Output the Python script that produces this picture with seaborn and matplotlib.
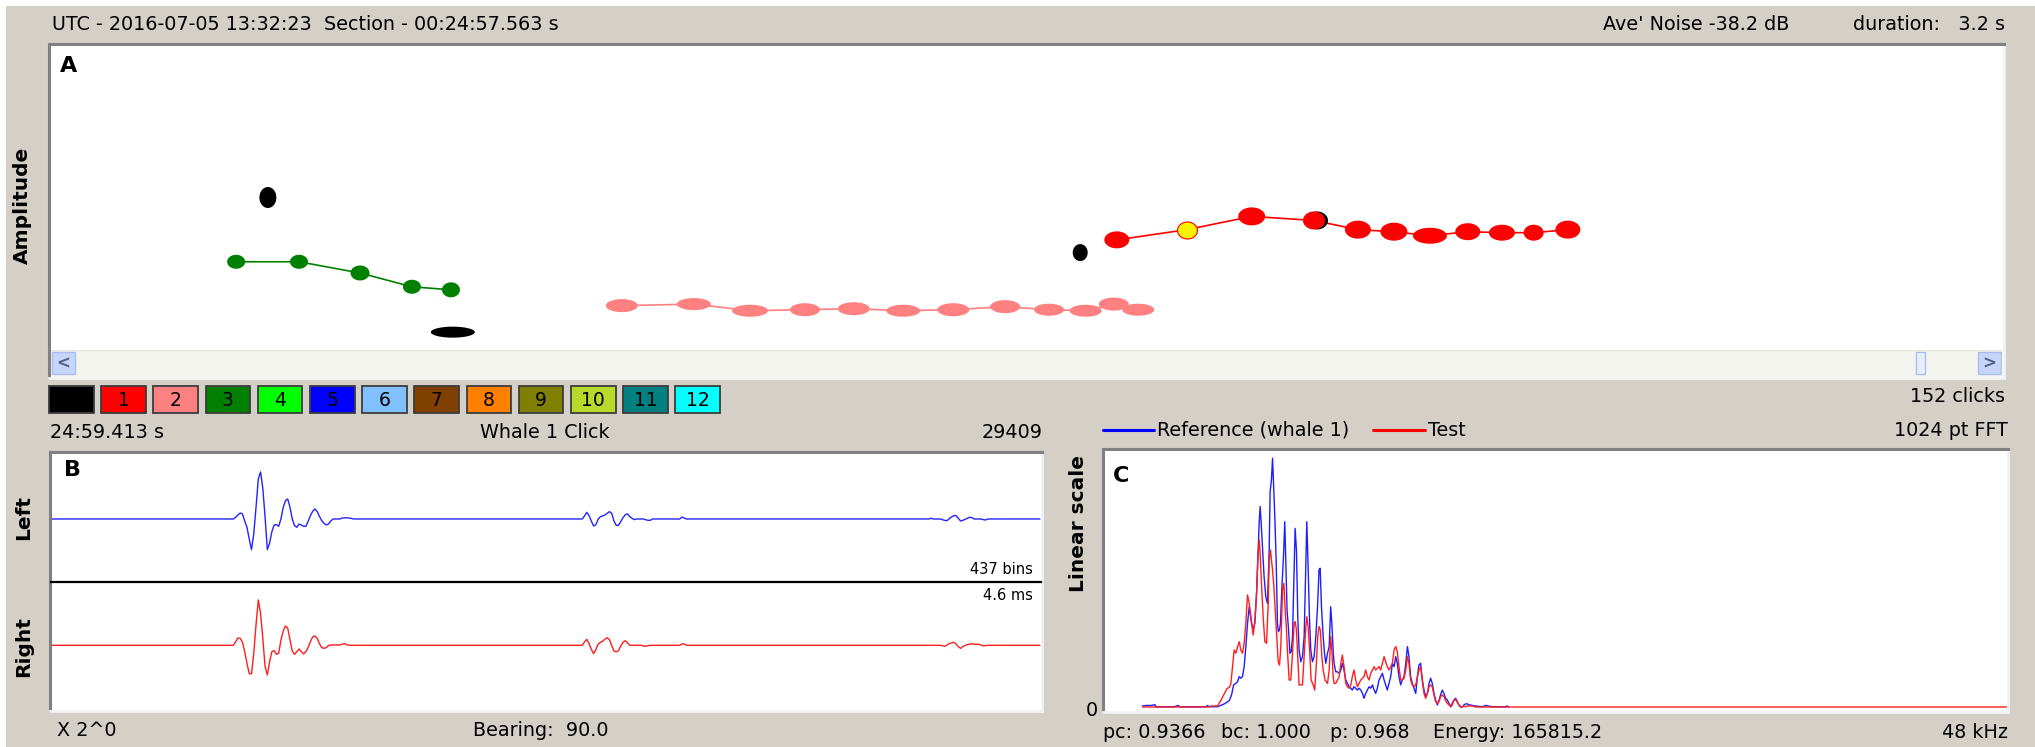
import numpy as np
import matplotlib
matplotlib.use("Agg")
import matplotlib.pyplot as plt
from matplotlib.path import Path
from matplotlib.patches import Rectangle
from matplotlib.lines import Line2D
import seaborn as sns

sns.set_style("white")
plt.rcParams["font.family"] = ["DejaVu Sans"]
plt.rcParams["text.color"] = "black"

W, H = 2035, 747
BG = "#D4D0C8"

# ---------------- Panel A: click amplitude against time ----------------
duration_s = 3.2
amp_limits = (110.0, 170.0)

cls3_time = [0.305, 0.408, 0.508, 0.593, 0.657]
cls3_amp = [127.3, 127.3, 125.1, 122.4, 121.8]

cls2_time = [0.937, 1.055, 1.147, 1.237, 1.317, 1.398, 1.480, 1.565, 1.637, 1.697, 1.743, 1.783]
cls2_amp = [118.7, 119.0, 117.7, 117.9, 118.1, 117.7, 117.9, 118.5, 117.9, 117.7, 119.0, 117.9]

cls1_time = [1.748, 1.863, 1.969, 2.071, 2.143, 2.202, 2.261, 2.323, 2.379, 2.431, 2.487]
cls1_amp = [131.6, 133.6, 136.2, 135.4, 133.6, 133.2, 132.4, 133.2, 133.0, 133.0, 133.6]
selected_click = 1

uncl_time = [0.357, 0.660, 1.688, 2.076]
uncl_amp = [139.9, 113.5, 129.1, 135.4]

# marker shapes (pixel width, height) per click
cls3_w, cls3_h = [18, 18, 19, 18, 18], [14, 14, 15, 14, 15]
cls2_w = [32, 34, 36, 30, 32, 34, 32, 30, 30, 32, 30, 32]
cls2_h = [13, 12, 12, 13, 13, 12, 13, 13, 12, 12, 13, 12]
cls1_w = [25, 20, 27, 22, 26, 27, 34, 25, 26, 20, 25]
cls1_h = [17, 17, 18, 18, 18, 18, 16, 17, 16, 16, 18]
uncl_w, uncl_h = [17, 44, 15, 22], [21, 11, 17, 18]

# ---------------- Panel B: click waveform (437 bins) ----------------
n_bins = 437
left_bursts = {
    80: [0, 0.026, 0.062, 0.093, 0.078, -0.031, -0.129, -0.31, -0.475, -0.233,
         0.181, 0.62, 0.73, 0.475, 0.026, -0.475, -0.372, -0.196, -0.093, -0.088,
         -0.114, 0, 0.181, 0.284, 0.31, 0.181, 0, -0.103, -0.129, -0.078,
         -0.093, -0.114, -0.114, -0.036, 0.052, 0.119, 0.155, 0.114, 0.041, -0.026,
         -0.067, -0.093, -0.078, -0.031, 0, 0, 0, 0, 0.015, 0.015, 0.02, 0.015, 0.01, 0],
    234: [0, 0.047, 0.103, 0.052, -0.031, -0.109, -0.088, -0.005, 0.036, 0.047,
          0.062, 0.088, 0.114, 0.088, -0.031, -0.098, -0.098, -0.041, 0.021, 0.067,
          0.078, 0.036, 0.01, -0.01, 0, 0, 0, 0, -0.01, -0.021, -0.021, 0],
    277: [0, 0.03, 0.015, 0],
    388: [0.01, 0, 0, 0, 0, -0.01, -0.021, -0.026, 0.005, 0.031, 0.052, 0.052, 0.01,
          -0.031, -0.021, -0.005, 0.01, 0.026, 0.021, 0, 0, 0, 0, -0.01, -0.016, 0],
}
right_bursts = {
    80: [0, 0.057, 0.114, 0.109, 0.047, -0.098, -0.279, -0.439, -0.444, -0.124,
         0.315, 0.703, 0.496, 0.109, -0.331, -0.46, -0.253, -0.098, -0.083, -0.14,
         -0.124, 0.083, 0.222, 0.3, 0.264, 0.083, -0.088, -0.14, -0.098, -0.057,
         -0.098, -0.134, -0.098, -0.036, 0.057, 0.129, 0.145, 0.109, 0.026, -0.036,
         -0.047, -0.036, -0.005, 0.005, 0.005, 0.005, 0.005, 0.005, 0.015, 0.026, 0.01, 0],
    234: [0, 0.052, 0.093, 0.026, -0.062, -0.129, -0.067, 0.016, 0.047, 0.062,
          0.093, 0.119, 0.088, -0.005, -0.088, -0.103, -0.083, -0.01, 0.047, 0.072,
          0.036, 0, 0, 0, 0, 0, 0, -0.01, -0.016, -0.005, 0, 0],
    277: [0, 0.021, 0.021, 0],
    393: [-0.005, -0.016, 0.005, 0.026, 0.036, 0.047, 0.021, -0.021, -0.047, -0.021,
          0, 0.01, 0.016, 0.026, 0.016, 0.016, 0.016, 0.005, -0.01, -0.005, 0],
}

# ---------------- Panel C: power spectra (linear scale, 0-48 kHz) ----------------
ref_freq = [2.05, 2.23, 2.50, 2.71, 2.76, 3.74, 3.95, 4.02, 5.42, 5.50, 5.59, 6.04, 6.39, 6.66, 6.78, 6.89,
            7.01, 7.10, 7.19, 7.27, 7.36, 7.45, 7.54, 7.63, 7.72, 7.77, 7.84, 7.93, 8.02,
            8.11, 8.18, 8.25, 8.30, 8.35, 8.42, 8.51, 8.60, 8.69, 8.78, 8.83, 8.90, 8.96, 9.01,
            9.08, 9.15, 9.22, 9.27, 9.33, 9.38, 9.45, 9.54, 9.61, 9.66, 9.73, 9.81, 9.88, 9.95,
            10.02, 10.11, 10.16, 10.23, 10.30, 10.37, 10.46, 10.55, 10.64, 10.73, 10.78, 10.85,
            10.92, 10.99, 11.08, 11.17, 11.26, 11.35, 11.43, 11.49, 11.56, 11.65, 11.72, 11.79,
            11.88, 11.97,
            12.05, 12.11, 12.18, 12.23, 12.32, 12.41, 12.50, 12.59, 12.67, 12.76, 12.85, 12.94,
            13.03, 13.12, 13.20, 13.29, 13.38, 13.47, 13.56, 13.65, 13.74, 13.82, 13.91, 14.00,
            14.09, 14.18, 14.27, 14.36, 14.44, 14.53, 14.62, 14.71, 14.80, 14.89, 14.97, 15.06,
            15.15, 15.24, 15.33, 15.42, 15.51, 15.59, 15.68, 15.77, 15.86, 15.95, 16.04, 16.13,
            16.21, 16.30, 16.39, 16.48, 16.57, 16.66, 16.74, 16.83, 16.92, 17.01,
            17.10, 17.19, 17.28, 17.36, 17.45, 17.54, 17.63, 17.72, 17.81, 17.89, 17.98, 18.07,
            18.16, 18.25, 18.34, 18.43, 18.51, 18.60, 18.69, 18.78, 18.87, 18.96, 19.05, 19.13,
            19.22, 19.31, 19.40, 19.58, 19.75, 20.11, 20.28, 20.64, 21.35, 21.44, 21.52]
ref_amp = [0.004, 0.006, 0.006, 0.009, 0.001, 0.001, 0.006, 0.001, 0.001, 0.006, 0.001, 0.001, 0.012, 0.025, 0.047, 0.086,
           0.092, 0.099, 0.118, 0.112, 0.118, 0.157, 0.235, 0.326, 0.390, 0.364, 0.326, 0.300, 0.326,
           0.442, 0.585, 0.721, 0.780, 0.721, 0.624, 0.507, 0.429, 0.403, 0.611, 0.838, 0.883, 0.968, 0.870,
           0.741, 0.572, 0.326, 0.293, 0.300, 0.326, 0.455, 0.585, 0.721, 0.572, 0.377, 0.300, 0.209, 0.215,
           0.274, 0.546, 0.695, 0.611, 0.351, 0.222, 0.176, 0.196, 0.274, 0.559, 0.721, 0.546,
           0.351, 0.222, 0.176, 0.196, 0.274, 0.390, 0.533, 0.540, 0.390, 0.274, 0.209, 0.170,
           0.209, 0.235,
           0.390, 0.326, 0.222, 0.170, 0.137, 0.137, 0.131, 0.144, 0.170, 0.144, 0.105, 0.092,
           0.079, 0.073, 0.066, 0.079, 0.073, 0.066, 0.073, 0.066, 0.053, 0.034, 0.053, 0.066,
           0.079, 0.073, 0.086, 0.066, 0.053, 0.073, 0.105, 0.118, 0.131, 0.105, 0.086, 0.066,
           0.092, 0.118, 0.170, 0.157, 0.196, 0.170, 0.118, 0.086, 0.105, 0.118, 0.170, 0.235,
           0.196, 0.118, 0.092, 0.073, 0.053, 0.118, 0.163, 0.170, 0.105, 0.066,
           0.040, 0.053, 0.092, 0.112, 0.092, 0.053, 0.027, 0.008, 0.027, 0.047, 0.066, 0.053,
           0.034, 0.027, 0.014, 0.001, 0.014, 0.027, 0.034, 0.021, 0.008, 0.0, 0.0, 0.008,
           0.012, 0.012, 0.009, 0.006, 0.004, 0.001, 0.006, 0.001, 0.001, 0.004, 0.0]

test_freq = [2.05, 5.59, 5.68, 6.04, 6.21, 6.39, 6.53, 6.66, 6.74, 6.83, 6.92,
             7.01, 7.10, 7.19, 7.27, 7.36, 7.45, 7.54, 7.63, 7.72, 7.81,
             7.93, 8.02, 8.11, 8.18, 8.25, 8.30, 8.37, 8.46, 8.55, 8.64,
             8.73, 8.78, 8.85, 8.90, 8.96, 9.03, 9.10, 9.19, 9.26, 9.33,
             9.40, 9.49, 9.56, 9.63, 9.70, 9.75, 9.84, 9.93, 10.02, 10.11,
             10.16, 10.23, 10.30, 10.37, 10.46, 10.55, 10.64, 10.73, 10.78, 10.85,
             10.94, 11.01, 11.12, 11.20, 11.29, 11.36, 11.43, 11.50, 11.58, 11.65,
             11.75, 11.88, 11.97,
             12.05, 12.11, 12.18, 12.23, 12.32, 12.41, 12.50, 12.59, 12.67, 12.76, 12.85, 12.94,
             13.03, 13.12, 13.20, 13.29, 13.38, 13.47, 13.56, 13.65, 13.74, 13.82, 13.91, 14.00,
             14.09, 14.18, 14.27, 14.36, 14.44, 14.53, 14.62, 14.71, 14.80, 14.89, 14.97, 15.06,
             15.15, 15.24, 15.33, 15.42, 15.51, 15.59, 15.68, 15.77, 15.86, 15.95, 16.04, 16.13,
             16.21, 16.30, 16.39, 16.48, 16.57, 16.66, 16.74, 16.83, 16.92, 17.01,
             17.10, 17.19, 17.28, 17.36, 17.45, 17.54, 17.63, 17.72, 17.81, 17.89, 17.98, 18.07,
             18.16, 18.25, 18.34, 18.43, 18.51, 18.60, 18.69, 18.78, 18.87, 18.96, 19.05, 19.13,
             19.22, 19.31, 19.58, 19.75, 48.0]
test_amp = [0.0, 0.0, 0.004, 0.004, 0.025, 0.051, 0.071, 0.077, 0.089, 0.157, 0.222,
            0.209, 0.235, 0.254, 0.222, 0.209, 0.248, 0.326, 0.436, 0.403, 0.351,
            0.280, 0.339, 0.442, 0.585, 0.650, 0.598, 0.481, 0.351, 0.254, 0.248,
            0.403, 0.572, 0.611, 0.572, 0.533, 0.468, 0.377, 0.261, 0.176, 0.163,
            0.235, 0.455, 0.481, 0.377, 0.300, 0.222, 0.105, 0.105, 0.209, 0.326,
            0.332, 0.300, 0.196, 0.086, 0.086, 0.086, 0.196, 0.313, 0.351, 0.313,
            0.209, 0.105, 0.086, 0.066, 0.170, 0.274, 0.313, 0.300, 0.196, 0.144,
            0.105, 0.092, 0.144,
            0.274, 0.222, 0.118, 0.092, 0.092, 0.105, 0.118, 0.170, 0.202, 0.157, 0.092, 0.079,
            0.073, 0.086, 0.118, 0.144, 0.105, 0.079, 0.092, 0.105, 0.112, 0.118, 0.144, 0.118,
            0.105, 0.131, 0.144, 0.157, 0.144, 0.150, 0.157, 0.144, 0.170, 0.196, 0.176, 0.157,
            0.144, 0.157, 0.170, 0.222, 0.235, 0.215, 0.157, 0.105, 0.105, 0.112, 0.144, 0.196,
            0.170, 0.105, 0.086, 0.079, 0.086, 0.118, 0.144, 0.157, 0.105, 0.053,
            0.034, 0.053, 0.079, 0.086, 0.079, 0.047, 0.021, 0.014, 0.021, 0.040, 0.047, 0.040,
            0.025, 0.014, 0.008, 0.001, 0.008, 0.025, 0.030, 0.018, 0.008, 0.0, 0.0, 0.004,
            0.001, 0.004, 0.004, 0.0, 0.0]

# species classes shown in the colour key
class_labels = ["", "1", "2", "3", "4", "5", "6", "7", "8", "9", "10", "11", "12"]
class_colors = ["#000000", "#FF0000", "#FF8080", "#008000", "#00FF00", "#0000FF", "#80C0FF",
                "#804000", "#FF8000", "#808000", "#B8D82A", "#008080", "#00FFFF"]

# ---------------------------------------------------------------------------
fig = plt.figure(figsize=(W / 100, H / 100), dpi=100, facecolor=BG)


def px_axes(x0, y0, x1, y1, **kw):
    return fig.add_axes([x0 / W, 1 - y1 / H, (x1 - x0) / W, (y1 - y0) / H], **kw)


def ftext(x, y, s, **kw):
    kw.setdefault("fontsize", 13.8)
    kw.setdefault("va", "center")
    kw.setdefault("color", "black")
    return fig.text(x / W, 1 - y / H, s, **kw)


def bare(ax):
    ax.set_xticks([])
    ax.set_yticks([])
    for sp in ax.spines.values():
        sp.set_visible(False)


def sunken_frame(x0, y0, x1, y1):
    ax = px_axes(x0, y0, x1, y1, zorder=0)
    ax.set_facecolor("white")
    ax.set_xticks([])
    ax.set_yticks([])
    for side in ("top", "left"):
        ax.spines[side].set_color("#808080")
        ax.spines[side].set_linewidth(2.2)
    for side in ("bottom", "right"):
        ax.spines[side].set_color("#F2F2F2")
        ax.spines[side].set_linewidth(2.0)
    return ax


def ellipse_marker(w, h):
    t = np.linspace(0, 2 * np.pi, 49)
    return Path(np.column_stack([w / 2 * np.cos(t), h / 2 * np.sin(t)]), closed=True)


def dots(ax, xs, ys, ws, hs, color, edge="none", z=4):
    for x, y, w, h in zip(xs, ys, ws, hs):
        ax.scatter([x], [y], marker=ellipse_marker(w, h), s=(max(w, h) * 0.72) ** 2,
                   color=color, edgecolors=edge, linewidths=0.8, zorder=z, clip_on=False)


# light window edge
fig.add_artist(Rectangle((0, 1 - 6 / H), 1, 6 / H, transform=fig.transFigure, color="white", lw=0))
fig.add_artist(Rectangle((0, 0), 6 / W, 1, transform=fig.transFigure, color="white", lw=0))

# ---------------- header ----------------
ftext(52, 25, "UTC - 2016-07-05 13:32:23  Section - 00:24:57.563 s")
ftext(1603, 25, "Ave' Noise -38.2 dB")
ftext(2005, 25, "duration:   3.2 s", ha="right")

# ---------------- panel A ----------------
sunken_frame(49, 44, 2004, 378)
axA = px_axes(50, 44, 2003, 350)
bare(axA)
axA.set_facecolor("none")
axA.set_xlim(0, duration_s)
axA.set_ylim(*amp_limits)

sns.lineplot(x=cls3_time, y=cls3_amp, ax=axA, color="#008000", linewidth=1.2,
             estimator=None, sort=False, legend=False)
sns.lineplot(x=cls2_time, y=cls2_amp, ax=axA, color="#FF8080", linewidth=1.2,
             estimator=None, sort=False, legend=False)
sns.lineplot(x=cls1_time, y=cls1_amp, ax=axA, color="#FF0000", linewidth=1.2,
             estimator=None, sort=False, legend=False)

dots(axA, uncl_time, uncl_amp, uncl_w, uncl_h, "#000000", z=3)
dots(axA, cls3_time, cls3_amp, cls3_w, cls3_h, "#008000")
dots(axA, cls2_time, cls2_amp, cls2_w, cls2_h, "#FF8080")
others = [i for i in range(len(cls1_time)) if i != selected_click]
dots(axA, [cls1_time[i] for i in others], [cls1_amp[i] for i in others],
     [cls1_w[i] for i in others], [cls1_h[i] for i in others], "#FF0000")
dots(axA, [cls1_time[selected_click]], [cls1_amp[selected_click]],
     [cls1_w[selected_click]], [cls1_h[selected_click]], "#FFF200", edge="#FF0000", z=5)
axA.text(10 / 1953, 1 - 22 / 306, "A", transform=axA.transAxes, fontsize=16,
         fontweight="bold", va="center", ha="left", color="black")

# scrollbar
axS = px_axes(51, 350, 2002, 377)
axS.set_xlim(0, 1951)
axS.set_ylim(27, 0)
bare(axS)
axS.set_facecolor("#F4F4EF")
axS.axhline(0.5, color="#E4E4DC", lw=1)
for bx in (1, 1927):
    axS.add_patch(Rectangle((bx, 2.5), 23, 22, facecolor="#C6D6FB", edgecolor="#A9BEEE", lw=1))
axS.text(12.5, 13.5, "<", ha="center", va="center", fontsize=12, color="#4D6185", fontweight="bold")
axS.text(1938.5, 13.5, ">", ha="center", va="center", fontsize=12, color="#4D6185", fontweight="bold")
axS.add_patch(Rectangle((1865, 2.5), 9, 22, facecolor="#E8EEFC", edgecolor="#A9BEEE", lw=1))

ftext(22, 205, "Amplitude", rotation=90, ha="center", fontsize=14.5, fontweight="bold")

# ---------------- class colour key ----------------
axK = px_axes(45.2, 386, 45.2 + 13 * 52.2, 413)
bare(axK)
axK.set_facecolor("none")
axK.set_xlim(-0.5, 12.5)
axK.set_ylim(0, 1)
axK.bar(range(len(class_colors)), [1] * len(class_colors), width=0.855, bottom=0,
        color=class_colors, edgecolor="#3C3C3C", linewidth=1.3, clip_on=False)
for i, lab in enumerate(class_labels):
    axK.text(i, 0.47, lab, ha="center", va="center", fontsize=13.5, color="black")

ftext(2005, 397, "152 clicks", ha="right")

# ---------------- panel B ----------------
ftext(50, 433, "24:59.413 s")
ftext(545, 433, "Whale 1 Click", ha="center")
ftext(1043, 433, "29409", ha="right")

sunken_frame(50, 452, 1042, 711)
left = np.zeros(n_bins)
for start, vals in left_bursts.items():
    left[start:start + len(vals)] = vals
right = np.zeros(n_bins)
for start, vals in right_bursts.items():
    right[start:start + len(vals)] = vals
bins = np.arange(n_bins)

axL = px_axes(51, 453, 1041, 582)
axR = px_axes(51, 582, 1041, 710)
for ax in (axL, axR):
    bare(ax)
    ax.set_facecolor("none")
    ax.set_xlim(-0.5, n_bins - 0.5)
axL.set_ylim(-0.977, 1.023)
axR.set_ylim(-1.003, 0.981)
sns.lineplot(x=bins, y=left, ax=axL, color="#2323FF", linewidth=1.0, estimator=None, legend=False)
sns.lineplot(x=bins, y=right, ax=axR, color="#FF1E1E", linewidth=1.0, estimator=None, legend=False)
axL.spines["bottom"].set_visible(True)
axL.spines["bottom"].set_color("black")
axL.spines["bottom"].set_linewidth(1.6)
axL.text(0.013, 0.87, "B", transform=axL.transAxes, fontsize=16, fontweight="bold",
         va="center", color="black")
ftext(1033, 569, "437 bins", ha="right", fontsize=10.5)
ftext(1033, 596, "4.6 ms", ha="right", fontsize=10.5)
ftext(24, 517, "Left", rotation=90, ha="center", fontsize=14.5, fontweight="bold")
ftext(24, 647, "Right", rotation=90, ha="center", fontsize=14.5, fontweight="bold")

ftext(57, 730, "X 2^0")
ftext(541, 730, "Bearing:  90.0", ha="center")

# ---------------- panel C ----------------
fig.add_artist(Line2D([1103 / W, 1154 / W], [1 - 430 / H] * 2, color="#0000FF", lw=2.2))
ftext(1157, 430, "Reference (whale 1)")
fig.add_artist(Line2D([1373 / W, 1425 / W], [1 - 430 / H] * 2, color="#FF0000", lw=2.2))
ftext(1428, 430, "Test")
ftext(2008, 430, "1024 pt FFT", ha="right")

sunken_frame(1103, 449, 2008, 712)
axC = px_axes(1104, 450, 2007, 711)
bare(axC)
axC.set_facecolor("none")
axC.set_xlim(0, 48)
axC.set_ylim(-4 / 257, 1.0)
sns.lineplot(x=ref_freq, y=ref_amp, ax=axC, color="#1E1EFF", linewidth=1.0,
             estimator=None, sort=False, legend=False)
sns.lineplot(x=test_freq, y=test_amp, ax=axC, color="#FF1E1E", linewidth=1.0,
             estimator=None, sort=False, legend=False)
axC.text(0.01, 0.9, "C", transform=axC.transAxes, fontsize=16, fontweight="bold",
         va="center", color="black")
ftext(1078, 523, "Linear scale", rotation=90, ha="center", fontsize=14.5, fontweight="bold")
ftext(1092, 710, "0", ha="center")

ftext(1103, 732, "pc: 0.9366")
ftext(1221, 732, "bc: 1.000")
ftext(1330, 732, "p: 0.968")
ftext(1433, 732, "Energy: 165815.2")
ftext(2008, 732, "48 kHz", ha="right")

fig.savefig("out.png", dpi=100, facecolor=BG)
